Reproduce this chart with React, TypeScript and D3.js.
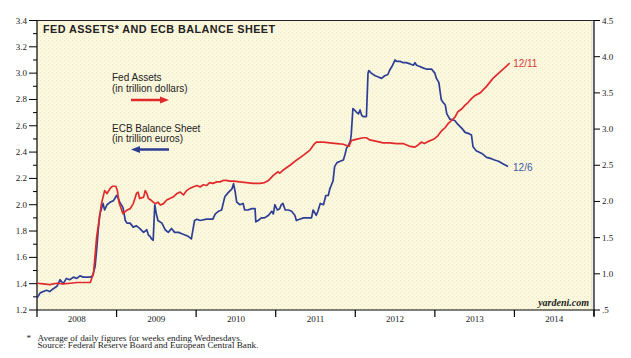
import React from "react";
import * as d3 from "d3";

const fedYears = [2008.00,2008.08,2008.16,2008.25,2008.33,2008.42,2008.50,2008.58,2008.67,2008.71,2008.75,2008.81,2008.85,2008.88,2008.92,2008.95,2008.99,2009.01,2009.03,2009.08,2009.13,2009.17,2009.21,2009.25,2009.27,2009.29,2009.34,2009.36,2009.38,2009.40,2009.43,2009.46,2009.49,2009.52,2009.55,2009.59,2009.63,2009.67,2009.71,2009.76,2009.80,2009.84,2009.88,2009.92,2009.96,2010.01,2010.05,2010.09,2010.13,2010.17,2010.21,2010.26,2010.30,2010.34,2010.38,2010.42,2010.47,2010.55,2010.63,2010.72,2010.80,2010.86,2010.91,2010.97,2011.03,2011.05,2011.09,2011.18,2011.26,2011.35,2011.43,2011.49,2011.51,2011.60,2011.68,2011.77,2011.85,2011.92,2011.95,2012.02,2012.10,2012.14,2012.18,2012.27,2012.35,2012.43,2012.52,2012.60,2012.69,2012.75,2012.79,2012.83,2012.87,2012.92,2012.96,2013.00,2013.04,2013.08,2013.13,2013.17,2013.21,2013.25,2013.29,2013.34,2013.38,2013.42,2013.46,2013.50,2013.57,2013.65,2013.73,2013.82,2013.90,2013.94];
const fedValues = [0.87,0.86,0.85,0.87,0.86,0.87,0.88,0.88,0.88,1.01,1.51,1.97,2.15,2.11,2.18,2.21,2.21,2.15,1.99,1.83,1.88,1.90,1.97,2.11,2.13,2.04,2.06,2.15,2.11,2.04,2.02,1.99,1.97,1.99,1.95,1.97,2.02,2.04,2.06,2.11,2.13,2.09,2.15,2.18,2.20,2.22,2.20,2.23,2.22,2.26,2.25,2.27,2.27,2.29,2.29,2.28,2.28,2.27,2.26,2.25,2.25,2.26,2.29,2.36,2.41,2.39,2.43,2.50,2.57,2.64,2.71,2.80,2.82,2.82,2.81,2.80,2.79,2.76,2.84,2.86,2.88,2.88,2.85,2.83,2.81,2.81,2.80,2.80,2.76,2.75,2.78,2.82,2.80,2.83,2.85,2.87,2.91,2.97,3.02,3.08,3.12,3.16,3.24,3.28,3.33,3.37,3.42,3.46,3.50,3.59,3.70,3.79,3.87,3.91];

const ecbYears = [2008.00,2008.04,2008.08,2008.12,2008.16,2008.20,2008.25,2008.29,2008.33,2008.37,2008.41,2008.46,2008.50,2008.54,2008.58,2008.62,2008.67,2008.70,2008.73,2008.75,2008.77,2008.79,2008.81,2008.83,2008.85,2008.88,2008.92,2008.96,2009.00,2009.02,2009.04,2009.08,2009.11,2009.13,2009.17,2009.21,2009.25,2009.29,2009.34,2009.38,2009.40,2009.42,2009.44,2009.46,2009.48,2009.50,2009.52,2009.57,2009.61,2009.65,2009.69,2009.73,2009.78,2009.82,2009.86,2009.90,2009.94,2009.96,2009.98,2010.01,2010.05,2010.13,2010.21,2010.24,2010.28,2010.32,2010.36,2010.40,2010.45,2010.47,2010.49,2010.51,2010.55,2010.59,2010.61,2010.65,2010.70,2010.74,2010.75,2010.78,2010.82,2010.86,2010.91,2010.95,2010.97,2010.99,2011.02,2011.05,2011.07,2011.09,2011.12,2011.16,2011.20,2011.24,2011.26,2011.30,2011.35,2011.39,2011.45,2011.47,2011.51,2011.53,2011.56,2011.60,2011.63,2011.66,2011.68,2011.72,2011.74,2011.77,2011.81,2011.85,2011.87,2011.89,2011.92,2011.94,2011.95,2011.97,2011.99,2012.02,2012.04,2012.06,2012.08,2012.10,2012.14,2012.16,2012.17,2012.20,2012.25,2012.29,2012.33,2012.37,2012.41,2012.43,2012.46,2012.50,2012.52,2012.56,2012.60,2012.64,2012.69,2012.73,2012.75,2012.77,2012.81,2012.85,2012.90,2012.96,2013.00,2013.02,2013.05,2013.08,2013.10,2013.13,2013.15,2013.19,2013.25,2013.29,2013.34,2013.38,2013.43,2013.46,2013.48,2013.52,2013.59,2013.65,2013.71,2013.75,2013.80,2013.86,2013.92];
const ecbValues = [1.29,1.33,1.34,1.35,1.34,1.36,1.38,1.43,1.40,1.44,1.43,1.45,1.44,1.46,1.45,1.45,1.45,1.46,1.53,1.66,1.81,1.93,1.97,2.01,1.96,2.00,2.02,2.03,2.07,2.05,2.02,1.98,1.88,1.86,1.86,1.83,1.84,1.82,1.79,1.81,1.77,1.76,1.74,1.73,2.00,1.93,1.88,1.86,1.81,1.79,1.82,1.79,1.79,1.78,1.77,1.76,1.74,1.81,1.88,1.89,1.88,1.89,1.89,1.93,1.95,1.96,2.06,2.09,2.12,2.16,2.10,2.02,2.00,2.01,1.96,1.96,1.97,1.97,1.87,1.88,1.90,1.90,1.92,1.95,1.93,2.00,1.96,1.97,2.00,2.01,1.96,1.96,1.95,1.92,1.88,1.89,1.90,1.90,1.90,1.96,1.92,1.95,2.01,2.00,2.07,2.07,2.12,2.18,2.29,2.32,2.33,2.34,2.38,2.43,2.46,2.49,2.54,2.73,2.72,2.70,2.69,2.72,2.68,2.67,2.67,3.00,3.02,3.00,2.98,2.97,2.96,2.98,2.99,3.02,3.05,3.10,3.09,3.09,3.08,3.08,3.07,3.06,3.08,3.06,3.05,3.04,3.03,3.03,3.00,2.96,2.93,2.80,2.78,2.76,2.69,2.65,2.64,2.61,2.58,2.55,2.54,2.53,2.44,2.41,2.39,2.36,2.35,2.34,2.33,2.31,2.29];

const yearLabels = ["2008","2009","2010","2011","2012","2013","2014"];
const leftTicks = [1.2,1.3,1.4,1.5,1.6,1.7,1.8,1.9,2.0,2.1,2.2,2.3,2.4,2.5,2.6,2.7,2.8,2.9,3.0,3.1,3.2,3.3,3.4];
const rightTicks = [0.5,1.0,1.5,2.0,2.5,3.0,3.5,4.0,4.5];
const titleText = "FED ASSETS* AND ECB BALANCE SHEET";
const fedLabel = ["Fed Assets", "(in trillion dollars)"];
const ecbLabel = ["ECB Balance Sheet", "(in trillion euros)"];
const fedEnd = "12/11";
const ecbEnd = "12/6";
const footnotes = ["Average of daily figures for weeks ending Wednesdays.", "Source: Federal Reserve Board and European Central Bank."];

const RED = "#E12A2C";
const BLUE = "#2D3F95";
const SERIF = "'Liberation Serif', 'Times New Roman', serif";
const SANS = "'Liberation Sans', Arial, sans-serif";

export default function App() {
  const W = 631, H = 358;
  const left = 37, right = 594, top = 20.5, bottom = 310;
  const x = d3.scaleLinear().domain([2008, 2015]).range([left, right]);
  const yL = d3.scaleLinear().domain([1.2, 3.4]).range([bottom, top]);
  const yR = d3.scaleLinear().domain([0.5, 4.5]).range([bottom, top]);

  const fedData = fedYears.map((t, i) => [t, fedValues[i]] as [number, number]);
  const ecbData = ecbYears.map((t, i) => [t, ecbValues[i]] as [number, number]);
  const fedLine = d3.line<[number, number]>().x(d => x(d[0])).y(d => yR(d[1]));
  const ecbLine = d3.line<[number, number]>().x(d => x(d[0])).y(d => yL(d[1]));

  const fedLast = fedData[fedData.length - 1];
  const ecbLast = ecbData[ecbData.length - 1];

  return (
    <svg width={W} height={H} style={{ position: "absolute", left: 0, top: 0, background: "#fff" }}>
      <defs>
        <pattern id="stip" width="4" height="4" patternUnits="userSpaceOnUse">
          <rect width="4" height="4" fill="#FCF8DE" />
          <rect x="0" y="0" width="1" height="1" fill="#EEE7C6" />
          <rect x="2" y="2" width="1" height="1" fill="#F2ECCF" />
        </pattern>
      </defs>
      <rect x={left} y={top} width={right - 2 - left} height={bottom - top} fill="url(#stip)" />
      {/* frame */}
      <line x1={left} x2={right} y1={top} y2={top} stroke="#222" strokeWidth={1} />
      <line x1={right - 2} x2={right - 2} y1={top} y2={bottom} stroke="#999" strokeWidth={0.8} strokeDasharray="1,1" />
      <line x1={left} x2={left} y1={top} y2={bottom} stroke="#000" strokeWidth={1.2} />
      <line x1={right} x2={right} y1={top} y2={bottom + 6} stroke="#000" strokeWidth={1.2} />
      <line x1={left} x2={right} y1={bottom} y2={bottom} stroke="#000" strokeWidth={1.2} />

      {/* left axis */}
      {leftTicks.map((v, i) => {
        const major = i % 2 === 0;
        return (
          <g key={"l" + i}>
            <line x1={major ? left - 8 : left - 4} x2={left} y1={yL(v)} y2={yL(v)} stroke="#000" strokeWidth={1} />
            {major && (
              <text x={27} y={yL(v) + 3} fontFamily={SERIF} fontSize={9} textAnchor="end" fill="#222">{v.toFixed(1)}</text>
            )}
          </g>
        );
      })}
      {/* right axis */}
      {rightTicks.map((v, i) => (
        <g key={"r" + i}>
          <line x1={right} x2={right + 6} y1={yR(v)} y2={yR(v)} stroke="#000" strokeWidth={1} />
          <text x={602} y={yR(v) + 3} fontFamily={SERIF} fontSize={9} fill="#222">{v === 0.5 ? ".5" : v.toFixed(1)}</text>
        </g>
      ))}
      {/* bottom axis */}
      {d3.range(2008, 2016).map((yr) => (
        <line key={"b" + yr} x1={x(yr)} x2={x(yr)} y1={bottom} y2={bottom + 7} stroke="#000" strokeWidth={1.2} />
      ))}
      {yearLabels.map((lab, i) => (
        <text key={"y" + lab} x={x(2008 + i + 0.5)} y={321.5} fontFamily={SERIF} fontSize={9} textAnchor="middle" fill="#222">{lab}</text>
      ))}

      {/* title */}
      <text x={43} y={32.5} fontFamily={SANS} fontWeight="bold" fontSize={10.8} textLength={232} lengthAdjust="spacing" fill="#222">{titleText}</text>

      {/* legend */}
      <text x={112} y={81} fontFamily={SANS} fontSize={10} fill="#222">{fedLabel[0]}</text>
      <text x={112} y={91.5} fontFamily={SANS} fontSize={10} fill="#222">{fedLabel[1]}</text>
      <line x1={131} x2={161} y1={100} y2={100} stroke={RED} strokeWidth={2.5} />
      <path d="M160,96.5 L169,100 L160,103.5 Z" fill={RED} />
      <text x={112} y={132} fontFamily={SANS} fontSize={10} fill="#222">{ecbLabel[0]}</text>
      <text x={112} y={142} fontFamily={SANS} fontSize={10} fill="#222">{ecbLabel[1]}</text>
      <line x1={139} x2={169} y1={149.5} y2={149.5} stroke={BLUE} strokeWidth={2.5} />
      <path d="M140,146 L131,149.5 L140,153 Z" fill={BLUE} />

      {/* series */}
      <path d={ecbLine(ecbData) || ""} fill="none" stroke={BLUE} strokeWidth={1.7} strokeLinejoin="round" />
      <path d={fedLine(fedData) || ""} fill="none" stroke={RED} strokeWidth={1.7} strokeLinejoin="round" />

      <text x={x(fedLast[0]) + 3.5} y={yR(fedLast[1]) + 3.5} fontFamily={SANS} fontSize={10} fill="#D8393A">{fedEnd}</text>
      <text x={x(ecbLast[0]) + 5} y={yL(ecbLast[1]) + 4.5} fontFamily={SANS} fontSize={10} fill="#3D58A6">{ecbEnd}</text>

      <text x={589} y={306} fontFamily={SERIF} fontStyle="italic" fontWeight="bold" fontSize={10} textAnchor="end" fill="#222">yardeni.com</text>

      {/* footnotes */}
      <text x={26.5} y={341} fontFamily={SERIF} fontSize={9.2} fill="#222">*</text>
      <text x={37.5} y={340.5} fontFamily={SERIF} fontSize={9.2} fill="#222">{footnotes[0]}</text>
      <text x={37.5} y={347.8} fontFamily={SERIF} fontSize={9.2} fill="#222">{footnotes[1]}</text>
    </svg>
  );
}
